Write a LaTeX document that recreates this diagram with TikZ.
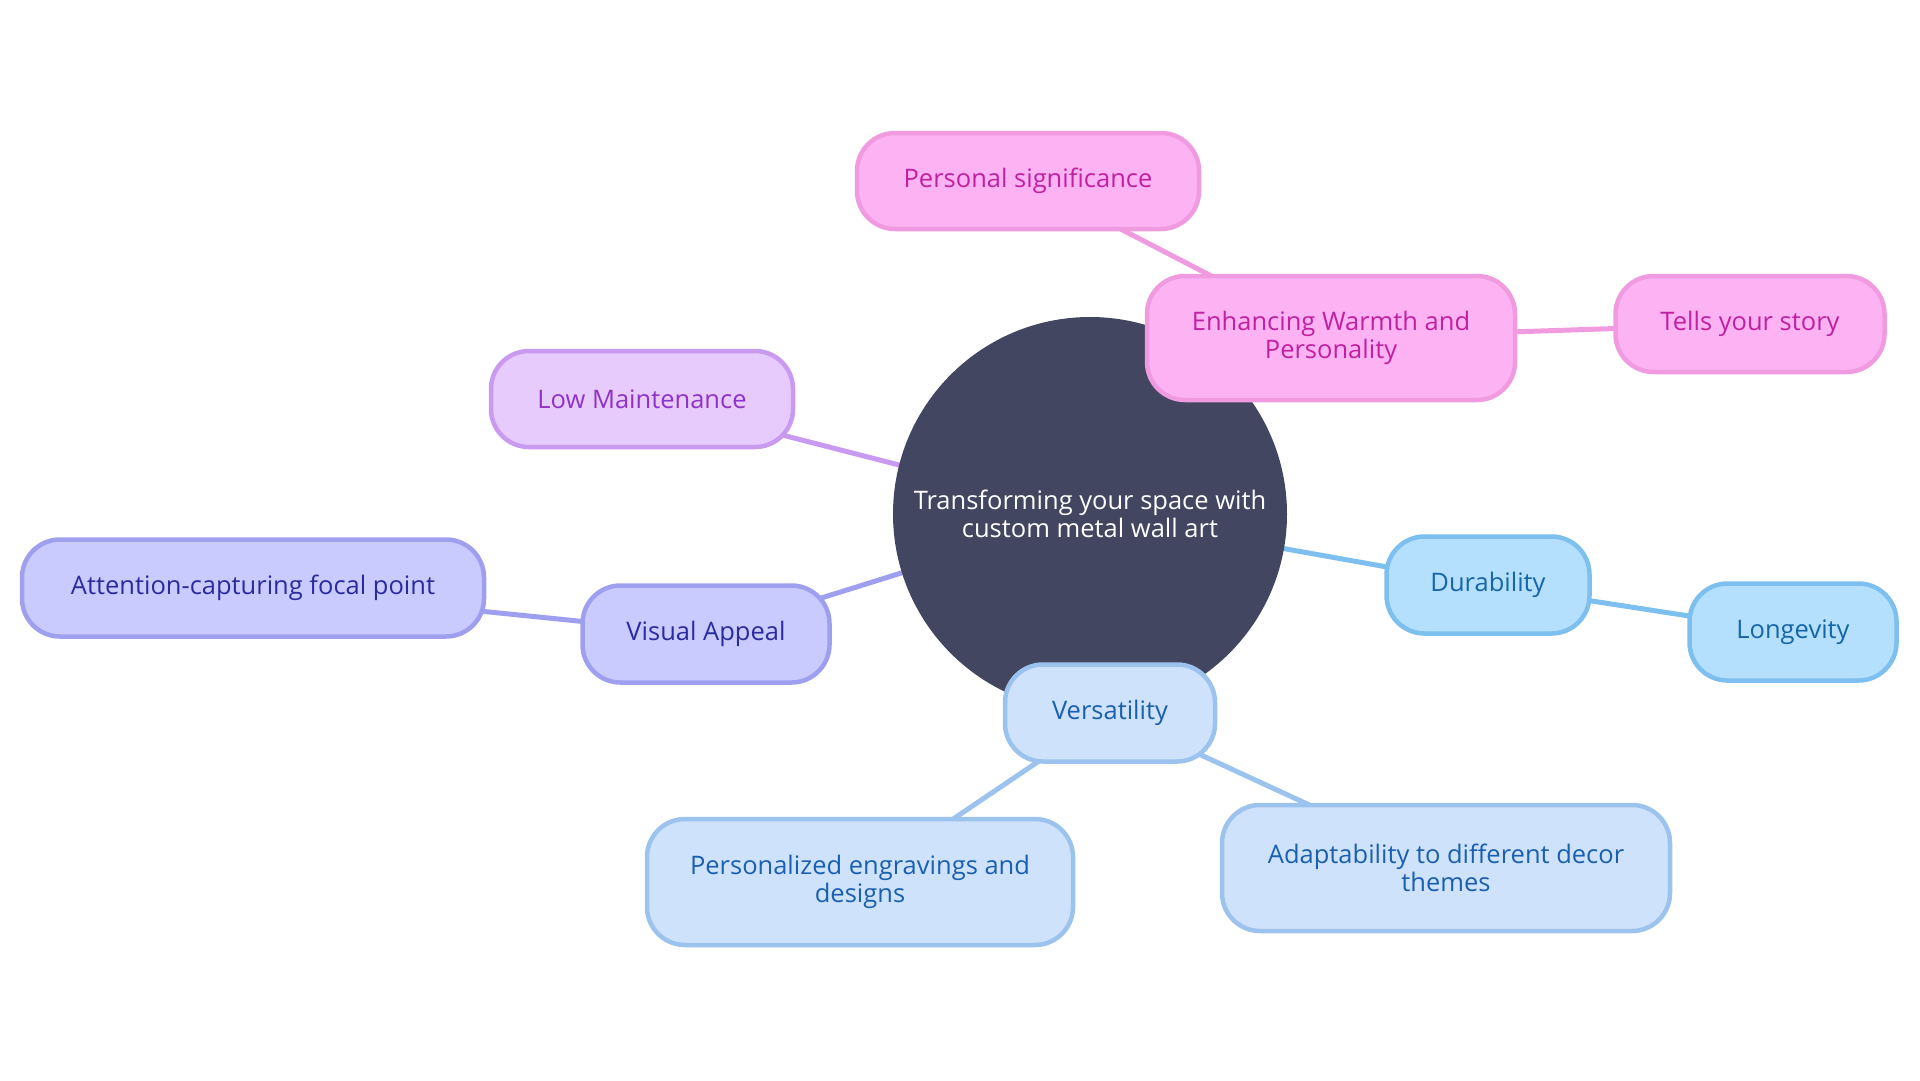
\documentclass[tikz,border=0pt]{standalone}
\usepackage{fontspec}
\setmainfont{Open Sans}
\usetikzlibrary{backgrounds}
\definecolor{centerfill}{HTML}{424660}
\definecolor{pinkfill}{HTML}{FDB3F3}
\definecolor{pinkline}{HTML}{F09BE0}
\definecolor{pinktext}{HTML}{C0219E}
\definecolor{lavfill}{HTML}{E8CBFD}
\definecolor{lavline}{HTML}{C99BF0}
\definecolor{lavtext}{HTML}{8E33C8}
\definecolor{perifill}{HTML}{C9CAFD}
\definecolor{periline}{HTML}{9E9FEE}
\definecolor{peritext}{HTML}{2B2BA0}
\definecolor{skyfill}{HTML}{B5E0FD}
\definecolor{skyline}{HTML}{7DBFEE}
\definecolor{skytext}{HTML}{1565A8}
\definecolor{bluefill}{HTML}{CEE3FB}
\definecolor{blueline}{HTML}{9CC2EE}
\definecolor{bluetext}{HTML}{1B5FB0}
\tikzset{
  x=1pt, y=-1pt,
  box/.style={rectangle, rounded corners=38pt, line width=4.5pt, align=center,
    font=\fontsize{25.5}{28.5}\selectfont, inner sep=0pt},
  pinkbox/.style={box, fill=pinkfill, draw=pinkline, text=pinktext},
  lavbox/.style={box, fill=lavfill, draw=lavline, text=lavtext},
  peribox/.style={box, fill=perifill, draw=periline, text=peritext},
  skybox/.style={box, fill=skyfill, draw=skyline, text=skytext},
  bluebox/.style={box, fill=bluefill, draw=blueline, text=bluetext},
  link/.style={line width=5pt},
}
\begin{document}
\begin{tikzpicture}
\useasboundingbox (0,0) rectangle (1920,1080);
\node[circle, fill=centerfill, minimum size=394pt, inner sep=0pt, text=white, align=center,
  font=\fontsize{25.5}{28.5}\selectfont] (c) at (1090,514) {Transforming your space with\\custom metal wall art};
\node[pinkbox, minimum width=342pt, minimum height=96pt] (ps) at (1028,181) {Personal significance};
\node[pinkbox, minimum width=368pt, minimum height=124pt] (ew) at (1331,338) {Enhancing Warmth and\\Personality};
\node[pinkbox, minimum width=269pt, minimum height=96pt] (ts) at (1750,324) {Tells your story};
\node[lavbox, minimum width=302pt, minimum height=96pt] (lm) at (642,399) {Low Maintenance};
\node[peribox, minimum width=462pt, minimum height=97pt] (ac) at (253,588) {Attention-capturing focal point};
\node[peribox, minimum width=247pt, minimum height=97pt] (va) at (706,634) {Visual Appeal};
\node[skybox, minimum width=203pt, minimum height=97pt] (du) at (1488,585) {Durability};
\node[skybox, minimum width=207pt, minimum height=97pt] (lo) at (1793,632) {Longevity};
\node[bluebox, minimum width=210pt, minimum height=97pt] (ve) at (1110,713) {Versatility};
\node[bluebox, minimum width=426pt, minimum height=126pt] (pe) at (860,882) {Personalized engravings and\\designs};
\node[bluebox, minimum width=448pt, minimum height=126pt] (ad) at (1446,868) {Adaptability to different decor\\themes};
\begin{scope}[on background layer]
\draw[link, pinkline] (c.center) -- (ew.center);
\draw[link, pinkline] (ew.center) -- (ps.center);
\draw[link, pinkline] (ew.center) -- (ts.center);
\draw[link, lavline] (c.center) -- (lm.center);
\draw[link, periline] (c.center) -- (va.center);
\draw[link, periline] (va.center) -- (ac.center);
\draw[link, skyline] (c.center) -- (du.center);
\draw[link, skyline] (du.center) -- (lo.center);
\draw[link, blueline] (c.center) -- (ve.center);
\draw[link, blueline] (ve.center) -- (pe.center);
\draw[link, blueline] (ve.center) -- (ad.center);
\end{scope}
\end{tikzpicture}
\end{document}
